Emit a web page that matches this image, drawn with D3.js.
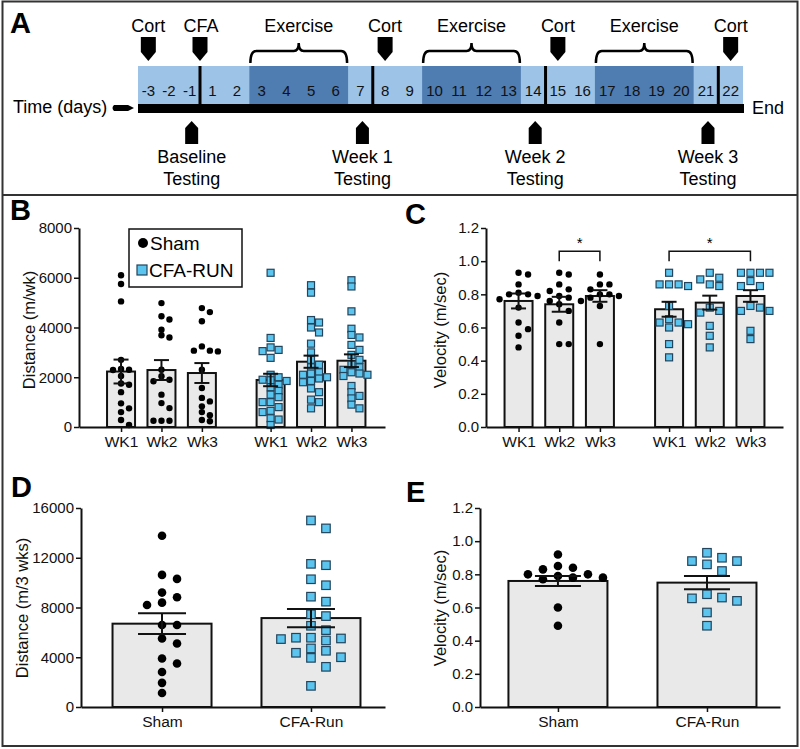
<!DOCTYPE html>
<html>
<head>
<meta charset="utf-8">
<script src="https://cdn.jsdelivr.net/npm/d3@7"></script>
<style>
  body { margin: 0; background: #fff; }
</style>
</head>
<body>
<div id="fig"></div>
<script>
const W = 800, H = 749;
const FONT = "'Liberation Sans', Arial, Helvetica, sans-serif";
const LIGHT = "#9dc3e6", DARK = "#4f7cb1";
const SQ_FILL = "#5cc5ef", SQ_STROKE = "#22445c", BAR_FILL = "#e9e9e9";

/* PANEL A DATA */
const dayNumbers = [-3, -2, -1, 1, 2, 3, 4, 5, 6, 7, 8, 9, 10, 11, 12, 13, 14, 15, 16, 17, 18, 19, 20, 21, 22];
const exerciseBlocks = [[3, 6], [10, 13], [17, 20]];
const dividerDays = [0, 7.5, 14.5, 21.5];
const cortDays = [-3, 8, 15, 22];
const cfaDay = 0;
const testDays = [-1, 7, 14, 21];
const testNames = ["Baseline", "Week 1", "Week 2", "Week 3"];

/* PANEL B DATA: distance per week (m/wk) */
const weekLabels = ["WK1", "Wk2", "Wk3", "WK1", "Wk2", "Wk3"];
const distWeekMean = [2230, 2290, 2170, 1890, 2625, 2665];
const distWeekSem = [480, 400, 400, 250, 245, 255];
const distWeekSham = [
  [6100, 5750, 5050, 2700, 2330, 2300, 2290, 2050, 1750, 1700, 1400, 950, 750, 600, 280, 80],
  [4980, 4450, 4320, 3910, 3690, 3600, 2300, 2040, 1900, 1840, 1300, 960, 760, 250, 250, 250],
  [4780, 4620, 4250, 3240, 3070, 3070, 3040, 2300, 1570, 1170, 1030, 830, 600, 470, 280, 230]
];
const distWeekCfa = [
  [6200, 3580, 3200, 3100, 3050, 2780, 2100, 2000, 1900, 1880, 1850, 1700, 1600, 1450, 1300, 1200, 1000, 1000, 800, 650, 600, 350, 300, 80],
  [5700, 5400, 4300, 4200, 4000, 3800, 3350, 3000, 2700, 2500, 2400, 2200, 2150, 2100, 2000, 1950, 1850, 1800, 1550, 1400, 1100, 1000, 750],
  [5900, 5650, 4650, 3950, 3700, 3600, 3300, 3100, 2900, 2700, 2500, 2400, 2300, 2200, 2150, 2100, 2050, 1650, 1400, 1250, 1150, 900, 750]
];

/* PANEL C DATA: velocity per week (m/sec) */
const velWeekMean = [0.76, 0.74, 0.79, 0.71, 0.75, 0.79];
const velWeekSem = [0.045, 0.045, 0.035, 0.045, 0.042, 0.035];
const velWeekSham = [
  [0.93, 0.92, 0.86, 0.81, 0.80, 0.80, 0.79, 0.77, 0.72, 0.63, 0.59, 0.55, 0.48],
  [0.93, 0.92, 0.86, 0.83, 0.82, 0.79, 0.78, 0.76, 0.74, 0.70, 0.63, 0.50, 0.50],
  [0.92, 0.86, 0.86, 0.83, 0.80, 0.80, 0.79, 0.78, 0.76, 0.73, 0.50]
];
const velWeekCfa = [
  [0.93, 0.86, 0.86, 0.86, 0.85, 0.73, 0.65, 0.63, 0.63, 0.62, 0.60, 0.50, 0.42],
  [0.93, 0.90, 0.89, 0.86, 0.85, 0.72, 0.70, 0.69, 0.61, 0.55, 0.48],
  [0.93, 0.93, 0.93, 0.93, 0.88, 0.85, 0.85, 0.73, 0.72, 0.70, 0.70, 0.58, 0.53]
];
const sigPairs = [[1, 2], [3, 5]];

/* PANEL D / E DATA: totals over 3 weeks */
const groupLabels = ["Sham", "CFA-Run"];
const distTotalMean = [6700, 7150];
const distTotalSem = [830, 730];
const distTotalSham = [13770, 10620, 10300, 9200, 8820, 8390, 8200, 6590, 6590, 5510, 5110, 3900, 3500, 2820, 1940, 1130];
const distTotalCfa = [15000, 14360, 11510, 11400, 10270, 9790, 8870, 8470, 7450, 7310, 6530, 6180, 5570, 5570, 5510, 5460, 5350, 4710, 4520, 4360, 4000, 3950, 3230, 1700];
const velTotalMean = [0.76, 0.75];
const velTotalSem = [0.03, 0.04];
const velTotalSham = [0.92, 0.85, 0.84, 0.83, 0.80, 0.80, 0.79, 0.78, 0.78, 0.77, 0.60, 0.49];
const velTotalCfa = [0.93, 0.90, 0.88, 0.88, 0.86, 0.82, 0.68, 0.66, 0.655, 0.64, 0.57, 0.49];

const svg = d3.select("#fig").append("svg")
  .attr("width", W).attr("height", H)
  .style("font-family", FONT);

/* FRAME */
svg.append("rect")
  .attr("x", 2.5).attr("y", 1.5).attr("width", 795).attr("height", 744.5)
  .attr("fill", "none").attr("stroke", "#333").attr("stroke-width", 2);
svg.append("line")
  .attr("x1", 2.5).attr("x2", 797.5).attr("y1", 195).attr("y2", 195)
  .attr("stroke", "#333").attr("stroke-width", 2);

function panelLetter(t, x, y) {
  svg.append("text").attr("x", x).attr("y", y)
    .attr("font-size", 29).attr("font-weight", "bold").text(t);
}

/* ============ PANEL A: timeline ============ */
const dayX = d3.scaleLinear()
  .domain([-3.5, -0.5, 0.5, 22.5])
  .range([138, 200, 200, 743]);

const gA = svg.append("g");
const barTop = 66, barBot = 104;

gA.append("rect")
  .attr("x", dayX(-3.5)).attr("y", barTop)
  .attr("width", dayX(22.5) - dayX(-3.5)).attr("height", barBot - barTop)
  .attr("fill", LIGHT);

gA.selectAll(".ex").data(exerciseBlocks).enter().append("rect")
  .attr("x", d => dayX(d[0] - 0.5)).attr("y", barTop)
  .attr("width", d => dayX(d[1] + 0.5) - dayX(d[0] - 0.5)).attr("height", barBot - barTop)
  .attr("fill", DARK);

gA.append("rect")
  .attr("x", dayX(-3.5)).attr("y", barBot)
  .attr("width", dayX(22.5) - dayX(-3.5) + 1).attr("height", 9)
  .attr("fill", "#000");

gA.selectAll(".div").data(dividerDays).enter().append("line")
  .attr("x1", d => dayX(d)).attr("x2", d => dayX(d))
  .attr("y1", barTop).attr("y2", barBot)
  .attr("stroke", "#000").attr("stroke-width", 3);

gA.selectAll(".num").data(dayNumbers).enter().append("text")
  .attr("x", d => dayX(d)).attr("y", 96)
  .attr("text-anchor", "middle").attr("font-size", 15).attr("fill", "#111")
  .text(d => d);

function downArrow(x) {
  const w = 7.5;
  gA.append("path")
    .attr("d", `M${x - w},37 L${x + w},37 L${x + w},52 L${x},61 L${x - w},52 Z`)
    .attr("fill", "#000");
}
function upArrow(x) {
  const w = 6.5;
  gA.append("path")
    .attr("d", `M${x},121 L${x + w},128 L${x + w},144 L${x - w},144 L${x - w},128 Z`)
    .attr("fill", "#000");
}

cortDays.forEach(d => {
  downArrow(dayX(d));
  gA.append("text").attr("x", dayX(d)).attr("y", 32)
    .attr("text-anchor", "middle").attr("font-size", 18).text("Cort");
});
downArrow(dayX(cfaDay));
gA.append("text").attr("x", dayX(cfaDay) + 1).attr("y", 32)
  .attr("text-anchor", "middle").attr("font-size", 18).text("CFA");

exerciseBlocks.forEach(b => {
  const x0 = dayX(b[0] - 0.5) + 1, x1 = dayX(b[1] + 0.5) - 1, m = (x0 + x1) / 2;
  gA.append("path")
    .attr("d", `M${x0},63 Q${x0},51 ${x0 + 6},51 L${m - 5},51 Q${m},51 ${m},43 Q${m},51 ${m + 5},51 L${x1 - 6},51 Q${x1},51 ${x1},63`)
    .attr("fill", "none").attr("stroke", "#000").attr("stroke-width", 2.5);
  gA.append("text").attr("x", m).attr("y", 32)
    .attr("text-anchor", "middle").attr("font-size", 18).text("Exercise");
});

testDays.forEach((d, i) => {
  const x = dayX(d) + 2;
  upArrow(x);
  gA.append("text").attr("x", x).attr("y", 163)
    .attr("text-anchor", "middle").attr("font-size", 18).text(testNames[i]);
  gA.append("text").attr("x", x).attr("y", 185)
    .attr("text-anchor", "middle").attr("font-size", 18).text("Testing");
});

gA.append("text").attr("x", 13).attr("y", 113).attr("font-size", 18).text("Time (days)");
gA.append("path")
  .attr("d", "M114,105 L128,105 L134,108 L128,111 L114,111 Q111,108 114,105 Z")
  .attr("fill", "#000");
gA.append("text").attr("x", 752).attr("y", 114).attr("font-size", 18).text("End");

panelLetter("A", 10, 33);

/* ============ BAR + SCATTER PANELS ============ */
function swarm(values, y, spacing, dyMin) {
  const placed = [];
  const out = new Array(values.length);
  const order = values.map((v, i) => i).sort((a, b) => values[b] - values[a]);
  order.forEach(i => {
    const py = y(values[i]);
    let off = 0;
    for (let k = 0; k < 60; k++) {
      const c = (k % 2 ? 1 : -1) * Math.ceil(k / 2) * spacing / 2;
      const hit = placed.some(p => Math.abs(p.y - py) < dyMin && Math.abs(p.x - c) < spacing * 0.95);
      if (!hit) { off = c; break; }
    }
    placed.push({ x: off, y: py });
    out[i] = off;
  });
  return out;
}

function drawPanel(cfg) {
  const g = svg.append("g");
  const x = d3.scaleLinear().domain(cfg.slotDomain).range(cfg.xRange);
  const y = d3.scaleLinear().domain(cfg.yDomain).range(cfg.yRange);
  const slots = cfg.means.map((m, i) => cfg.slot(i));

  // bars
  g.selectAll(".bar").data(cfg.means).enter().append("rect")
    .attr("x", (d, i) => x(slots[i]) - cfg.barW / 2)
    .attr("y", d => y(d))
    .attr("width", cfg.barW)
    .attr("height", d => y(0) - y(d))
    .attr("fill", BAR_FILL).attr("stroke", "#111").attr("stroke-width", 2);

  // points
  cfg.points.forEach((vals, i) => {
    const offs = swarm(vals, y, cfg.spacing, cfg.dyMin);
    const cx = x(slots[i]);
    if (cfg.kinds[i] === "circle") {
      g.selectAll(null).data(vals).enter().append("circle")
        .attr("cx", (d, j) => cx + offs[j]).attr("cy", d => y(d))
        .attr("r", cfg.r).attr("fill", "#000");
    } else {
      g.selectAll(null).data(vals).enter().append("rect")
        .attr("x", (d, j) => cx + offs[j] - cfg.sq / 2).attr("y", d => y(d) - cfg.sq / 2)
        .attr("width", cfg.sq).attr("height", cfg.sq)
        .attr("fill", SQ_FILL).attr("stroke", SQ_STROKE).attr("stroke-width", 1.2);
    }
  });

  // error bars
  cfg.means.forEach((m, i) => {
    const cx = x(slots[i]);
    const lo = y(m - cfg.sems[i]), hi = y(m + cfg.sems[i]);
    g.append("line").attr("x1", cx).attr("x2", cx).attr("y1", lo).attr("y2", hi)
      .attr("stroke", "#111").attr("stroke-width", 2);
    [lo, hi].forEach(yy => {
      g.append("line").attr("x1", cx - cfg.capW / 2).attr("x2", cx + cfg.capW / 2)
        .attr("y1", yy).attr("y2", yy)
        .attr("stroke", "#111").attr("stroke-width", 2);
    });
  });

  // axes
  const yAxis = d3.axisLeft(y).tickValues(cfg.yTicks).tickFormat(cfg.yFormat)
    .tickSize(5).tickSizeOuter(0).tickPadding(2);
  const yg = g.append("g").attr("transform", `translate(${cfg.xRange[0]},0)`).call(yAxis);
  yg.selectAll("text").attr("font-size", 15).attr("fill", "#111").attr("font-family", FONT);

  const xAxis = d3.axisBottom(x).tickValues(slots).tickFormat((d, i) => cfg.labels[i])
    .tickSize(5).tickSizeOuter(0).tickPadding(4);
  const xg = g.append("g").attr("transform", `translate(0,${y(0)})`).call(xAxis);
  xg.selectAll("text").attr("font-size", 15.5).attr("fill", "#111").attr("font-family", FONT);

  [yg, xg].forEach(a => {
    a.select(".domain").attr("stroke", "#111").attr("stroke-width", 2);
    a.selectAll(".tick line").attr("stroke", "#111").attr("stroke-width", 1.5);
  });

  g.append("text")
    .attr("transform", `translate(${cfg.yLabelX},${cfg.yLabelY}) rotate(-90)`)
    .attr("text-anchor", "middle").attr("dominant-baseline", "middle")
    .attr("font-size", 16.5).attr("fill", "#111").text(cfg.yLabel);

  return { g, x, y, slots };
}

const weekSlot = i => i + (i >= 3 ? 0.7 : 0);
const weekKinds = ["circle", "circle", "circle", "square", "square", "square"];

/* PANEL B */
drawPanel({
  xRange: [79, 385], slotDomain: [-1.04, 6.53],
  yRange: [427, 228], yDomain: [0, 8000],
  yTicks: [0, 2000, 4000, 6000, 8000], yFormat: d3.format("d"),
  slot: weekSlot, labels: weekLabels, kinds: weekKinds,
  means: distWeekMean, sems: distWeekSem,
  points: distWeekSham.concat(distWeekCfa),
  barW: 28, capW: 15, r: 3.2, sq: 7, spacing: 8, dyMin: 5,
  yLabel: "Distance (m/wk)", yLabelX: 31, yLabelY: 330
});
panelLetter("B", 10, 220);

// legend
const leg = svg.append("g");
leg.append("rect").attr("x", 129).attr("y", 229).attr("width", 113).attr("height", 58)
  .attr("fill", "#fff").attr("stroke", "#111").attr("stroke-width", 1.5);
leg.append("circle").attr("cx", 143).attr("cy", 243).attr("r", 5).attr("fill", "#000");
leg.append("text").attr("x", 150).attr("y", 250).attr("font-size", 19).text("Sham");
leg.append("rect").attr("x", 137).attr("y", 265).attr("width", 10).attr("height", 10)
  .attr("fill", SQ_FILL).attr("stroke", SQ_STROKE).attr("stroke-width", 1.2);
leg.append("text").attr("x", 149).attr("y", 277).attr("font-size", 19).text("CFA-RUN");

/* PANEL C */
const pc = drawPanel({
  xRange: [486, 783], slotDomain: [-0.80, 6.50],
  yRange: [427, 228], yDomain: [0, 1.2],
  yTicks: [0, 0.2, 0.4, 0.6, 0.8, 1.0, 1.2], yFormat: d3.format(".1f"),
  slot: weekSlot, labels: weekLabels, kinds: weekKinds,
  means: velWeekMean, sems: velWeekSem,
  points: velWeekSham.concat(velWeekCfa),
  barW: 28, capW: 15, r: 3.2, sq: 7, spacing: 9.5, dyMin: 7,
  yLabel: "Velocity (m/sec)", yLabelX: 442, yLabelY: 330
});
sigPairs.forEach(p => {
  const x0 = pc.x(pc.slots[p[0]]), x1 = pc.x(pc.slots[p[1]]);
  const yt = pc.y(1.06), yb = pc.y(1.0);
  pc.g.append("path")
    .attr("d", `M${x0},${yb} L${x0},${yt} L${x1},${yt} L${x1},${yb}`)
    .attr("fill", "none").attr("stroke", "#111").attr("stroke-width", 1.5);
  pc.g.append("text").attr("x", (x0 + x1) / 2).attr("y", yt - 3)
    .attr("text-anchor", "middle").attr("font-size", 15).text("*");
});
panelLetter("C", 405, 224);

/* PANEL D */
drawPanel({
  xRange: [81, 385], slotDomain: [-0.544, 1.497],
  yRange: [707, 508], yDomain: [0, 16000],
  yTicks: [0, 4000, 8000, 12000, 16000], yFormat: d3.format("d"),
  slot: i => i, labels: groupLabels, kinds: ["circle", "square"],
  means: distTotalMean, sems: distTotalSem,
  points: [distTotalSham, distTotalCfa],
  barW: 99, capW: 48, r: 4.3, sq: 8.5, spacing: 15, dyMin: 9,
  yLabel: "Distance (m/3 wks)", yLabelX: 24, yLabelY: 608
});
panelLetter("D", 11, 497);

/* PANEL E */
drawPanel({
  xRange: [480, 780], slotDomain: [-0.523, 1.49],
  yRange: [707, 508], yDomain: [0, 1.2],
  yTicks: [0, 0.2, 0.4, 0.6, 0.8, 1.0, 1.2], yFormat: d3.format(".1f"),
  slot: i => i, labels: groupLabels, kinds: ["circle", "square"],
  means: velTotalMean, sems: velTotalSem,
  points: [velTotalSham, velTotalCfa],
  barW: 99, capW: 46, r: 4.3, sq: 8.5, spacing: 15, dyMin: 9,
  yLabel: "Velocity (m/sec)", yLabelX: 442, yLabelY: 608
});
panelLetter("E", 406, 502);
</script>
</body>
</html>
